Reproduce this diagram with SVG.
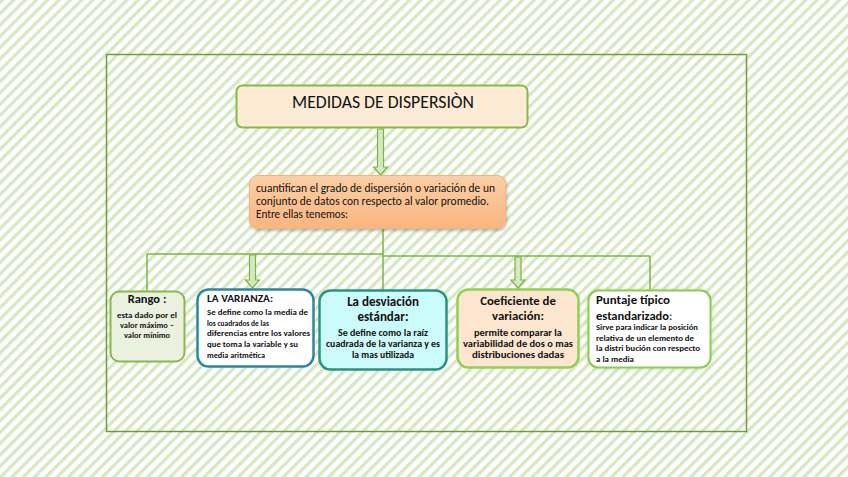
<svg xmlns="http://www.w3.org/2000/svg" width="848" height="477" viewBox="0 0 848 477">
<defs>
<pattern id="bg" width="8" height="8" patternUnits="userSpaceOnUse" patternTransform="rotate(45)">
<rect width="8" height="8" fill="#ffffff"/>
<rect width="3.4" height="8" fill="#d6e8c4"/>
</pattern>
<linearGradient id="og" x1="0" y1="0" x2="0" y2="1">
<stop offset="0" stop-color="#fbcfa6"/>
<stop offset="1" stop-color="#f9b57f"/>
</linearGradient>
<filter id="sh" x="-10%" y="-10%" width="125%" height="130%">
<feDropShadow dx="1" dy="2" stdDeviation="1.5" flood-color="#000" flood-opacity="0.25"/>
</filter>
<filter id="glow" x="-10%" y="-10%" width="120%" height="120%">
<feDropShadow dx="0" dy="0" stdDeviation="2" flood-color="#9fd36a" flood-opacity="0.6"/>
</filter>
</defs>
<style>
text{font-family:Carlito,"Liberation Sans","DejaVu Sans",sans-serif;fill:#111}
.b{font-weight:bold}
.con{stroke:#7db445;stroke-width:1.5;fill:none}
.arr{fill:#d5e8c4;stroke:#7db445;stroke-width:1.2}
</style>
<rect width="848" height="477" fill="url(#bg)"/>
<rect x="106.5" y="54.5" width="640" height="377" fill="none" stroke="#6e9d3a" stroke-width="1.5"/>

<g id="connectors">
<path class="arr" d="M377.5 129 h6 v38 h4 l-7 8 l-7 -8 h4 z"/>
<path class="con" d="M383 229 V255 M147 254 H383 M383 256 H650 M147 254 V291 M383 255 V290 M650 256 V290"/>
<path class="arr" d="M249.5 255 h6 v25 h4 l-7 8 l-7 -8 h4 z"/>
<path class="arr" d="M515 257 h6 v23 h4 l-7 8 l-7 -8 h4 z"/>
</g>

<g id="title">
<rect x="236.5" y="85.5" width="291" height="42" rx="6" fill="#fdebd6" stroke="#80bd45" stroke-width="2"/>
<text x="383" y="108" font-size="17.5" text-anchor="middle" textLength="182" lengthAdjust="spacingAndGlyphs">MEDIDAS DE DISPERSIÒN</text>
</g>

<g id="definicion">
<rect x="249.5" y="175.5" width="256" height="53" rx="8" fill="url(#og)" stroke="#f5b27c" stroke-width="1" filter="url(#sh)"/>
<text x="256" y="192" font-size="11.8" textLength="239" lengthAdjust="spacingAndGlyphs">cuantifican  el grado de dispersión o variación de un</text>
<text x="256" y="205" font-size="11.8" textLength="233" lengthAdjust="spacingAndGlyphs">conjunto de datos con respecto al valor promedio.</text>
<text x="256" y="218" font-size="11.8" textLength="92" lengthAdjust="spacingAndGlyphs">Entre ellas tenemos:</text>
</g>

<g id="rango">
<rect x="110.5" y="291.5" width="74" height="70" rx="9" fill="#ebf1de" stroke="#8ab84f" stroke-width="2"/>
<text class="b" x="147" y="303" font-size="12.5" text-anchor="middle">Rango :</text>
<text class="b" x="147" y="318" font-size="8.6" text-anchor="middle" textLength="60" lengthAdjust="spacingAndGlyphs">esta dado por el</text>
<text class="b" x="147" y="328" font-size="8.6" text-anchor="middle" textLength="54" lengthAdjust="spacingAndGlyphs">valor máximo –</text>
<text class="b" x="147" y="338" font-size="8.6" text-anchor="middle" textLength="46" lengthAdjust="spacingAndGlyphs">valor mínimo</text>
</g>

<g id="varianza">
<rect x="197.5" y="289.5" width="116" height="77" rx="11" fill="#ffffff" stroke="#2f86a0" stroke-width="2.5"/>
<text class="b" x="207" y="302" font-size="10.5" textLength="66" lengthAdjust="spacingAndGlyphs">LA  VARIANZA:</text>
<text class="b" x="207" y="315" font-size="8.8" textLength="101" lengthAdjust="spacingAndGlyphs">Se define  como la media de</text>
<text class="b" x="207" y="326" font-size="8.8" textLength="62" lengthAdjust="spacingAndGlyphs">los cuadrados de las</text>
<text class="b" x="207" y="336" font-size="8.8" textLength="103" lengthAdjust="spacingAndGlyphs">diferencias  entre los valores</text>
<text class="b" x="207" y="347" font-size="8.8" textLength="91" lengthAdjust="spacingAndGlyphs">que toma la variable y su</text>
<text class="b" x="207" y="358" font-size="8.8" textLength="58" lengthAdjust="spacingAndGlyphs">media  aritmética</text>
</g>

<g id="desviacion">
<rect x="319.5" y="290.5" width="127" height="79" rx="11" fill="#ccfbfb" stroke="#279482" stroke-width="2.5"/>
<text class="b" x="383" y="306" font-size="13" text-anchor="middle">La desviación</text>
<text class="b" x="383" y="321" font-size="13" text-anchor="middle">estándar:</text>
<text class="b" x="383" y="336" font-size="9" text-anchor="middle" textLength="90" lengthAdjust="spacingAndGlyphs">Se define como la raíz</text>
<text class="b" x="383" y="347" font-size="9" text-anchor="middle" textLength="114" lengthAdjust="spacingAndGlyphs">cuadrada de la varianza y es</text>
<text class="b" x="383" y="358" font-size="9" text-anchor="middle" textLength="62" lengthAdjust="spacingAndGlyphs">la mas utilizada</text>
</g>

<g id="coeficiente">
<rect x="457.5" y="289.5" width="121" height="78" rx="11" fill="#fde6cf" stroke="#92d050" stroke-width="2.5"/>
<text class="b" x="518" y="305" font-size="12.8" text-anchor="middle">Coeficiente de</text>
<text class="b" x="518" y="320" font-size="12.8" text-anchor="middle">variación:</text>
<text class="b" x="518" y="336" font-size="9" text-anchor="middle" textLength="88" lengthAdjust="spacingAndGlyphs">permite comparar la</text>
<text class="b" x="518" y="347" font-size="9" text-anchor="middle" textLength="110" lengthAdjust="spacingAndGlyphs">variabilidad de dos o mas</text>
<text class="b" x="518" y="358" font-size="9" text-anchor="middle" textLength="92" lengthAdjust="spacingAndGlyphs">distribuciones dadas</text>
</g>

<g id="puntaje">
<rect x="588.5" y="290.5" width="122" height="77" rx="10" fill="#ffffff" stroke="#8fcb5a" stroke-width="2" filter="url(#glow)"/>
<text class="b" x="596" y="304" font-size="12.5" textLength="74" lengthAdjust="spacingAndGlyphs">Puntaje  típico</text>
<text x="596" y="320" font-size="12.5"><tspan class="b">estandarizado</tspan>:</text>
<text class="b" x="596" y="330" font-size="8" textLength="102" lengthAdjust="spacingAndGlyphs">Sirve para indicar la posición</text>
<text class="b" x="596" y="341" font-size="8" textLength="98" lengthAdjust="spacingAndGlyphs">relativa de un elemento  de</text>
<text class="b" x="596" y="351" font-size="8" textLength="104" lengthAdjust="spacingAndGlyphs">la distri bución   con respecto</text>
<text class="b" x="596" y="362" font-size="8" textLength="38" lengthAdjust="spacingAndGlyphs">a la media</text>
</g>
</svg>
